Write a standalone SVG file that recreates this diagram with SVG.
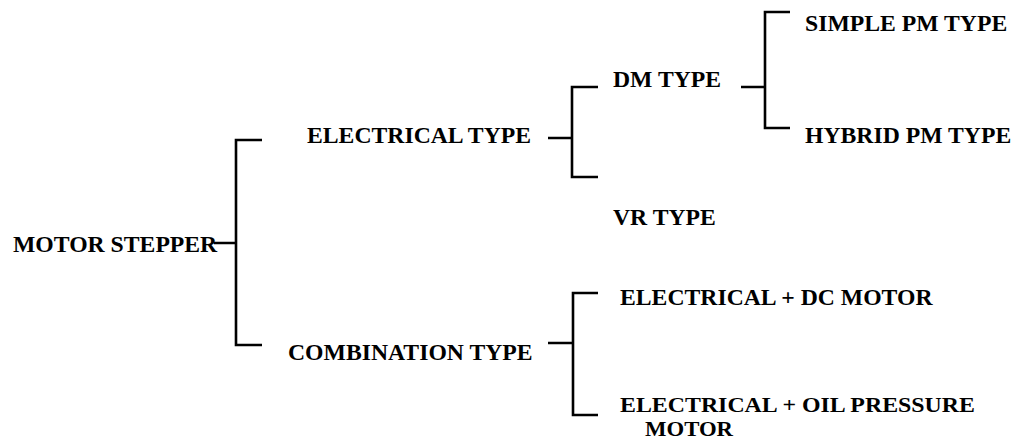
<svg xmlns="http://www.w3.org/2000/svg" width="1014" height="441" viewBox="0 0 1014 441">
<style>
.t{font-family:"Liberation Serif","Times New Roman",serif;font-weight:bold;font-size:23.7px;fill:#000}
.s{font-size:21.5px}
.c{fill:none;stroke:#000;stroke-width:2.6;stroke-linecap:butt;stroke-linejoin:miter}
</style>
<rect width="1014" height="441" fill="#fff"/>
<g id="connectors">
<path class="c" d="M214,243 H236 M262,140 H236 V345 H262"/>
<path class="c" d="M548,138 H572 M598,87 H572 V177 H598"/>
<path class="c" d="M741,87 H765 M790,12 H765 V128 H790"/>
<path class="c" d="M548,343 H573 M598,293 H573 V415 H598"/>
</g>
<g id="motor-stepper"><text class="t" x="13" y="252">MOTOR STEPPER</text></g>
<g id="electrical-type"><text class="t" x="307" y="143">ELECTRICAL TYPE</text></g>
<g id="combination-type"><text class="t" x="288" y="360">COMBINATION TYPE</text></g>
<g id="dm-type"><text class="t" x="613" y="87">DM TYPE</text></g>
<g id="vr-type"><text class="t" x="613" y="225">VR TYPE</text></g>
<g id="simple-pm-type"><text class="t" x="805" y="31">SIMPLE PM TYPE</text></g>
<g id="hybrid-pm-type"><text class="t" x="805" y="143">HYBRID PM TYPE</text></g>
<g id="electrical-dc-motor"><text class="t" x="620" y="305">ELECTRICAL + DC MOTOR</text></g>
<g id="electrical-oil-pressure-motor"><text class="t s" x="620" y="412" textLength="355" lengthAdjust="spacingAndGlyphs">ELECTRICAL + OIL PRESSURE</text><text class="t s" x="645" y="436" textLength="88" lengthAdjust="spacingAndGlyphs">MOTOR</text></g>
</svg>
